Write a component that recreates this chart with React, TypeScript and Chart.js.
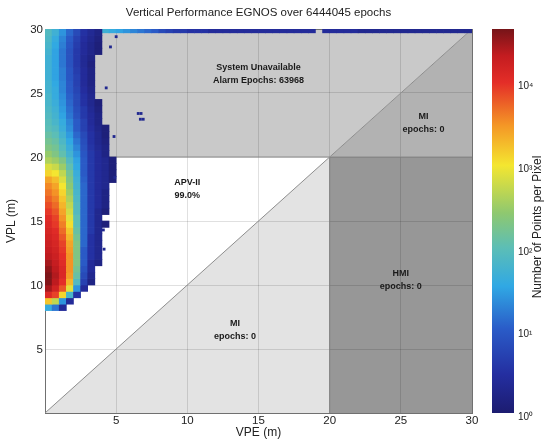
import React, { useEffect, useRef } from 'react';
import { Chart, registerables } from 'chart.js';

Chart.register(...registerables);

// ---------- text ----------
const chartTitle = 'Vertical Performance EGNOS over 6444045 epochs';
const xAxisTitle = 'VPE (m)';
const yAxisTitle = 'VPL (m)';
const colorbarTitle = 'Number of Points per Pixel';

// ---------- axes ----------
const axisMin = 0;
const axisMax = 30;
const alertLimit = 20;
const axisTicks = [0, 5, 10, 15, 20, 25, 30];

// ---------- colour bar (log10 of points per pixel) ----------
const cbarMinLog = 0;
const cbarMaxLog = 4.65;
const cbarTicks = [1, 10, 100, 1000, 10000];
const cbarTickLabels = ['10⁰', '10¹', '10²', '10³', '10⁴'];

// ---------- density map: log10(points per pixel) ----------
const binSize = 0.5;
const heatVpe = [0, 0.5, 1, 1.5, 2, 2.5, 3, 3.5, 4, 4.5];
const heatVpl = [
  8.0, 8.5, 9.0, 9.5, 10.0, 10.5, 11.0, 11.5, 12.0, 12.5, 13.0, 13.5, 14.0, 14.5,
  15.0, 15.5, 16.0, 16.5, 17.0, 17.5, 18.0, 18.5, 19.0, 19.5, 20.0, 20.5, 21.0, 21.5,
  22.0, 22.5, 23.0, 23.5, 24.0, 24.5, 25.0, 25.5, 26.0, 26.5, 27.0, 27.5, 28.0, 28.5,
  29.0, 29.5,
];
const heatLog = [
  [1.6, 1.2, 0.4, 0, 0, 0, 0, 0, 0, 0],
  [3.2, 2.7, 1.4, 0.4, 0, 0, 0, 0, 0, 0],
  [4.1, 3.9, 3.1, 1.8, 0.5, 0, 0, 0, 0, 0],
  [4.45, 4.2, 3.8, 2.9, 1.4, 0.4, 0, 0, 0, 0],
  [4.6, 4.35, 4.0, 3.3, 1.9, 0.7, 0.2, 0, 0, 0],
  [4.62, 4.4, 4.1, 3.45, 2.1, 0.8, 0.3, 0, 0, 0],
  [4.55, 4.35, 4.1, 3.5, 2.2, 0.9, 0.4, 0, 0, 0],
  [4.45, 4.3, 4.05, 3.5, 2.3, 1.0, 0.4, 0.2, 0, 0],
  [4.35, 4.25, 4.0, 3.5, 2.3, 1.0, 0.5, 0.3, 0, 0],
  [4.3, 4.2, 3.95, 3.45, 2.3, 1.0, 0.5, 0.3, 0, 0],
  [4.25, 4.15, 3.9, 3.4, 2.3, 1.1, 0.5, 0.3, 0, 0],
  [4.2, 4.1, 3.8, 3.3, 2.2, 1.1, 0.5, 0.3, 0, 0],
  [4.15, 4.05, 3.7, 3.2, 2.1, 1.1, 0.6, 0.3, 0, 0],
  [4.1, 3.95, 3.6, 3.05, 2.0, 1.1, 0.6, 0.3, 0.1, 0],
  [4.05, 3.9, 3.5, 2.9, 2.0, 1.1, 0.6, 0.3, 0, 0],
  [3.95, 3.8, 3.4, 2.8, 1.9, 1.1, 0.6, 0.3, 0.1, 0],
  [3.85, 3.7, 3.3, 2.7, 1.9, 1.1, 0.6, 0.4, 0.2, 0],
  [3.75, 3.6, 3.2, 2.6, 1.85, 1.1, 0.6, 0.4, 0.2, 0],
  [3.65, 3.5, 3.1, 2.5, 1.8, 1.1, 0.6, 0.4, 0.2, 0],
  [3.55, 3.4, 3.0, 2.4, 1.75, 1.1, 0.6, 0.4, 0.3, 0],
  [3.4, 3.25, 2.85, 2.3, 1.7, 1.05, 0.6, 0.4, 0.3, 0.1],
  [3.1, 3.0, 2.7, 2.2, 1.65, 1.0, 0.6, 0.4, 0.3, 0.1],
  [2.85, 2.75, 2.5, 2.05, 1.55, 1.0, 0.6, 0.4, 0.3, 0.1],
  [2.6, 2.5, 2.3, 1.9, 1.5, 1.0, 0.6, 0.4, 0.3, 0.1],
  [2.45, 2.3, 2.05, 1.75, 1.4, 0.95, 0.6, 0.4, 0.2, 0],
  [2.3, 2.2, 1.95, 1.65, 1.3, 0.9, 0.55, 0.35, 0.2, 0],
  [2.2, 2.1, 1.85, 1.55, 1.2, 0.85, 0.5, 0.3, 0.15, 0],
  [2.1, 2.0, 1.75, 1.45, 1.1, 0.8, 0.5, 0.3, 0.1, 0],
  [2.0, 1.9, 1.65, 1.35, 1.0, 0.7, 0.45, 0.25, 0.1, 0],
  [1.95, 1.8, 1.6, 1.3, 1.0, 0.7, 0.4, 0.2, 0, 0],
  [1.9, 1.75, 1.5, 1.2, 0.9, 0.6, 0.4, 0.2, 0, 0],
  [1.85, 1.7, 1.45, 1.15, 0.85, 0.6, 0.35, 0.15, 0, 0],
  [1.8, 1.65, 1.4, 1.1, 0.8, 0.5, 0.3, 0.1, 0, 0],
  [1.8, 1.6, 1.35, 1.05, 0.8, 0.5, 0.3, 0, 0, 0],
  [1.75, 1.6, 1.3, 1.0, 0.75, 0.45, 0.25, 0, 0, 0],
  [1.75, 1.55, 1.3, 1.0, 0.7, 0.4, 0.2, 0, 0, 0],
  [1.7, 1.5, 1.25, 0.95, 0.7, 0.4, 0.2, 0, 0, 0],
  [1.7, 1.5, 1.25, 0.95, 0.65, 0.4, 0.2, 0, 0, 0],
  [1.7, 1.5, 1.2, 0.9, 0.6, 0.35, 0.15, 0, 0, 0],
  [1.7, 1.5, 1.2, 0.9, 0.6, 0.35, 0.2, 0, 0, 0],
  [1.75, 1.5, 1.2, 0.9, 0.6, 0.4, 0.25, 0.1, 0, 0],
  [1.8, 1.55, 1.25, 0.95, 0.65, 0.4, 0.25, 0.1, 0, 0],
  [1.85, 1.6, 1.3, 1.0, 0.7, 0.45, 0.3, 0.15, 0, 0],
  [1.9, 1.7, 1.4, 1.1, 0.8, 0.5, 0.35, 0.2, 0, 0],
];

// saturated epochs (VPL >= 30) piled along the top edge
const stripVplLow = 29.7;
const stripVplHigh = 30;
const stripVpe = [
  0, 0.5, 1, 1.5, 2, 2.5, 3, 3.5, 4, 4.5, 5, 5.5, 6, 6.5, 7, 7.5, 8, 8.5, 9, 9.5,
  10, 10.5, 11, 11.5, 12, 12.5, 13, 13.5, 14, 14.5, 15, 15.5, 16, 16.5, 17, 17.5, 18, 18.5, 19, 19.5,
  20, 20.5, 21, 21.5, 22, 22.5, 23, 23.5, 24, 24.5, 25, 25.5, 26, 26.5, 27, 27.5, 28, 28.5, 29, 29.5,
];
const stripLog = [
  2.3, 2.3, 2.2, 2.1, 2.0, 1.9, 1.8, 1.8, 1.7, 1.6, 1.5, 1.4, 1.3, 1.2, 1.1, 1.0, 0.8, 0.7, 0.6, 0.6,
  0.5, 0.5, 0.5, 0.4, 0.4, 0.4, 0.4, 0.4, 0.4, 0.4, 0.4, 0.4, 0.4, 0.4, 0.4, 0.4, 0.4, 0.4, 0, 0.4,
  0.4, 0.4, 0.4, 0.4, 0.3, 0.3, 0.3, 0.3, 0.3, 0.3, 0.3, 0.3, 0.3, 0.3, 0.3, 0.3, 0.3, 0.3, 0.3, 0.3,
];

// isolated single-pixel epochs
const speckleVpe = [5.0, 4.6, 6.55, 6.75, 6.7, 6.9, 4.15, 4.85, 4.9, 4.3, 4.1];
const speckleVpl = [29.4, 28.6, 23.4, 23.4, 22.95, 22.95, 12.8, 21.6, 18.4, 25.4, 14.3];

// ---------- region labels ----------
const regionLabelVpe = [15, 26.6, 10, 13.35, 25];
const regionLabelVpl = [26.5, 22.65, 17.5, 6.5, 10.4];
const regionLabelText = [
  ['System Unavailable', 'Alarm Epochs: 63968'],
  ['MI', 'epochs: 0'],
  ['APV-II', '99.0%'],
  ['MI', 'epochs: 0'],
  ['HMI', 'epochs: 0'],
];

// ---------- styles ----------
const FONT = "'Liberation Sans', Arial, Helvetica, sans-serif";
const TEXT = '#222222';
const jetStops: [number, number[]][] = [
  [0.0, [28, 28, 112]],
  [0.1, [36, 46, 160]],
  [0.22, [42, 92, 200]],
  [0.33, [48, 168, 228]],
  [0.43, [92, 190, 182]],
  [0.52, [142, 200, 112]],
  [0.645, [244, 230, 48]],
  [0.75, [244, 150, 38]],
  [0.86, [228, 46, 40]],
  [0.93, [196, 28, 32]],
  [1.0, [118, 20, 24]],
];

function jetAt(t: number): string {
  const tt = Math.max(0, Math.min(1, t));
  for (let i = 1; i < jetStops.length; i++) {
    const [t1, c1] = jetStops[i];
    const [t0, c0] = jetStops[i - 1];
    if (tt <= t1) {
      const f = (tt - t0) / (t1 - t0);
      const c = c0.map((v, k) => Math.round(v + (c1[k] - v) * f));
      return `rgb(${c[0]},${c[1]},${c[2]})`;
    }
  }
  const c = jetStops[jetStops.length - 1][1];
  return `rgb(${c[0]},${c[1]},${c[2]})`;
}
const colourForLog = (L: number) => jetAt((L - cbarMinLog) / (cbarMaxLog - cbarMinLog));

const regionLabelPlugin = {
  id: 'regionLabels',
  afterDatasetsDraw(chart: any) {
    const { ctx, scales } = chart;
    ctx.save();
    ctx.font = `bold 9px ${FONT}`;
    ctx.fillStyle = '#1a1a1a';
    ctx.textAlign = 'center';
    ctx.textBaseline = 'middle';
    regionLabelText.forEach((lines, i) => {
      const px = scales.x.getPixelForValue(regionLabelVpe[i]);
      const py = scales.y.getPixelForValue(regionLabelVpl[i]);
      lines.forEach((t, j) => ctx.fillText(t, px, py + (j - (lines.length - 1) / 2) * 13.5));
    });
    ctx.restore();
  },
};

const colorbarTitlePlugin = {
  id: 'colorbarTitle',
  afterDraw(chart: any) {
    const { ctx, chartArea } = chart;
    ctx.save();
    ctx.translate(58, (chartArea.top + chartArea.bottom) / 2 + 6);
    ctx.rotate(-Math.PI / 2);
    ctx.font = `12px ${FONT}`;
    ctx.fillStyle = TEXT;
    ctx.textAlign = 'center';
    ctx.textBaseline = 'middle';
    ctx.fillText(colorbarTitle, 0, 0);
    ctx.restore();
  },
};

export default function App() {
  const mainRef = useRef<HTMLCanvasElement>(null);
  const cbRef = useRef<HTMLCanvasElement>(null);

  useEffect(() => {
    if (!mainRef.current || !cbRef.current) return;

    const cells: any[] = [];
    const cellColours: string[] = [];
    heatLog.forEach((row, i) =>
      row.forEach((L, j) => {
        if (L > 0) {
          cells.push({ x: heatVpe[j] + binSize / 2, y: [heatVpl[i], heatVpl[i] + binSize] });
          cellColours.push(colourForLog(L));
        }
      })
    );
    const strip: any[] = [];
    const stripColours: string[] = [];
    stripLog.forEach((L, i) => {
      if (L > 0) {
        strip.push({ x: stripVpe[i] + binSize / 2, y: [stripVplLow, stripVplHigh] });
        stripColours.push(colourForLog(L));
      }
    });
    const speckles = speckleVpe.map((x, i) => ({ x, y: speckleVpl[i] }));

    const fillBase = { type: 'line', pointRadius: 0, borderWidth: 0, order: 10, xAxisID: 'x', yAxisID: 'y' };
    const edgeBase = { type: 'line', pointRadius: 0, borderWidth: 1, fill: false, order: 5, xAxisID: 'x', yAxisID: 'y' };
    const barBase = {
      type: 'bar', borderWidth: 0, barPercentage: 1, categoryPercentage: 1, grouped: false,
      order: 1, xAxisID: 'x', yAxisID: 'y',
    };

    const main = new Chart(mainRef.current, {
      type: 'bar',
      data: {
        datasets: [
          { ...barBase, data: cells, backgroundColor: cellColours },
          { ...barBase, data: strip, backgroundColor: stripColours },
          {
            type: 'line', data: speckles, showLine: false, pointStyle: 'rect', pointRadius: 2,
            pointBorderWidth: 0, pointBackgroundColor: colourForLog(0.3), order: 0, xAxisID: 'x', yAxisID: 'y',
          },
          // region boundaries
          { ...edgeBase, data: [{ x: axisMin, y: axisMin }, { x: axisMax, y: axisMax }], borderColor: '#8e8e8e' },
          { ...edgeBase, data: [{ x: axisMin, y: alertLimit }, { x: axisMax, y: alertLimit }], borderColor: '#8a8a8a' },
          { ...edgeBase, data: [{ x: alertLimit, y: axisMin }, { x: alertLimit, y: alertLimit }], borderColor: '#7c7c7c' },
          // region fills
          {
            ...fillBase,
            data: [{ x: axisMin, y: alertLimit }, { x: alertLimit, y: alertLimit }, { x: axisMax, y: axisMax }],
            fill: 'end', backgroundColor: '#c9c9c9',
          },
          {
            ...fillBase,
            data: [{ x: alertLimit, y: alertLimit }, { x: axisMax, y: axisMax }],
            fill: { value: alertLimit }, backgroundColor: '#b2b2b2',
          },
          {
            ...fillBase,
            data: [{ x: axisMin, y: axisMin }, { x: alertLimit, y: alertLimit }],
            fill: 'start', backgroundColor: '#e3e3e3',
          },
          {
            ...fillBase,
            data: [{ x: alertLimit, y: alertLimit }, { x: axisMax, y: alertLimit }],
            fill: 'start', backgroundColor: '#979797',
          },
        ] as any,
      },
      options: {
        animation: false,
        responsive: false,
        devicePixelRatio: 1,
        events: [],
        layout: { padding: { left: 0, right: 8, top: 0, bottom: 0 } },
        plugins: {
          legend: { display: false },
          tooltip: { enabled: false },
          filler: { drawTime: 'beforeDraw' },
          title: {
            display: true, text: chartTitle, fullSize: false, color: TEXT,
            font: { family: FONT, size: 11.5, weight: 'normal' },
            padding: { top: 6.3, bottom: 8.9 },
          },
        } as any,
        scales: {
          x: {
            type: 'linear', position: 'bottom', min: axisMin, max: axisMax, offset: false,
            afterBuildTicks: (s: any) => { s.ticks = axisTicks.map((v) => ({ value: v })); },
            afterFit: (s: any) => { s.height = 29; },
            ticks: {
              callback: (v: any) => (v === 0 ? '' : String(v)), autoSkip: false, maxRotation: 0,
              font: { family: FONT, size: 11.5 }, color: TEXT, padding: 1,
            },
            grid: { color: 'rgba(0,0,0,0.12)', drawTicks: false, offset: false },
            border: { color: '#707070', width: 1 },
            title: {
              display: true, text: xAxisTitle, color: TEXT,
              font: { family: FONT, size: 12 }, padding: { top: 0, bottom: 2 },
            },
          },
          y: {
            type: 'linear', position: 'left', min: axisMin, max: axisMax,
            afterBuildTicks: (s: any) => { s.ticks = axisTicks.map((v) => ({ value: v })); },
            afterFit: (s: any) => { s.width = 45; },
            ticks: {
              callback: (v: any) => (v === 0 ? '' : String(v)), autoSkip: false,
              font: { family: FONT, size: 11.5 }, color: TEXT, padding: 2, labelOffset: 1,
            },
            grid: { color: 'rgba(0,0,0,0.12)', drawTicks: false },
            border: { color: '#707070', width: 1 },
            title: {
              display: true, text: yAxisTitle, color: TEXT,
              font: { family: FONT, size: 12 }, padding: { top: 4, bottom: 0 },
            },
          },
          xTop: {
            type: 'linear', position: 'top', min: axisMin, max: axisMax, offset: false,
            ticks: { display: false }, grid: { display: false, drawTicks: false, offset: false },
            border: { color: '#707070', width: 1 },
            afterFit: (s: any) => { s.height = 0; },
          },
          yRight: {
            type: 'linear', position: 'right', min: axisMin, max: axisMax,
            ticks: { display: false }, grid: { display: false, drawTicks: false },
            border: { color: '#707070', width: 1 },
            afterFit: (s: any) => { s.width = 0; },
          },
        } as any,
      },
      plugins: [regionLabelPlugin],
    } as any);

    const cbarMax = Math.pow(10, cbarMaxLog);
    const cbar = new Chart(cbRef.current, {
      type: 'bar',
      data: {
        labels: [''],
        datasets: [
          {
            data: [[Math.pow(10, cbarMinLog), cbarMax]],
            borderWidth: 0, barPercentage: 1, categoryPercentage: 1,
            backgroundColor: (c: any) => {
              const area = c.chart.chartArea;
              if (!area) return 'rgba(0,0,0,0)';
              const g = c.chart.ctx.createLinearGradient(0, area.bottom, 0, area.top);
              jetStops.forEach(([t, col]) => g.addColorStop(t, `rgb(${col[0]},${col[1]},${col[2]})`));
              return g;
            },
          },
        ] as any,
      },
      options: {
        animation: false,
        responsive: false,
        devicePixelRatio: 1,
        events: [],
        layout: { padding: { left: 12, right: 0, top: 29, bottom: 29 } },
        plugins: { legend: { display: false }, tooltip: { enabled: false } },
        scales: {
          x: { display: false, offset: true },
          y: {
            type: 'logarithmic', position: 'right', min: Math.pow(10, cbarMinLog), max: cbarMax,
            afterBuildTicks: (s: any) => { s.ticks = cbarTicks.map((v) => ({ value: v })); },
            afterFit: (s: any) => { s.width = 31; },
            ticks: {
              callback: (v: any) => cbarTickLabels[cbarTicks.indexOf(Number(v))] ?? '',
              font: { family: FONT, size: 10 }, color: TEXT, padding: 4, autoSkip: false, labelOffset: 4,
            },
            grid: { display: false, drawTicks: false },
            border: { display: false },
          },
        } as any,
      },
      plugins: [colorbarTitlePlugin],
    } as any);

    return () => {
      main.destroy();
      cbar.destroy();
    };
  }, []);

  return (
    <div style={{ position: 'absolute', left: 0, top: 0, width: 545, height: 442, background: '#ffffff' }}>
      <canvas ref={mainRef} width={480} height={442} style={{ position: 'absolute', left: 0, top: 0 }} />
      <canvas ref={cbRef} width={65} height={442} style={{ position: 'absolute', left: 480, top: 0 }} />
    </div>
  );
}
